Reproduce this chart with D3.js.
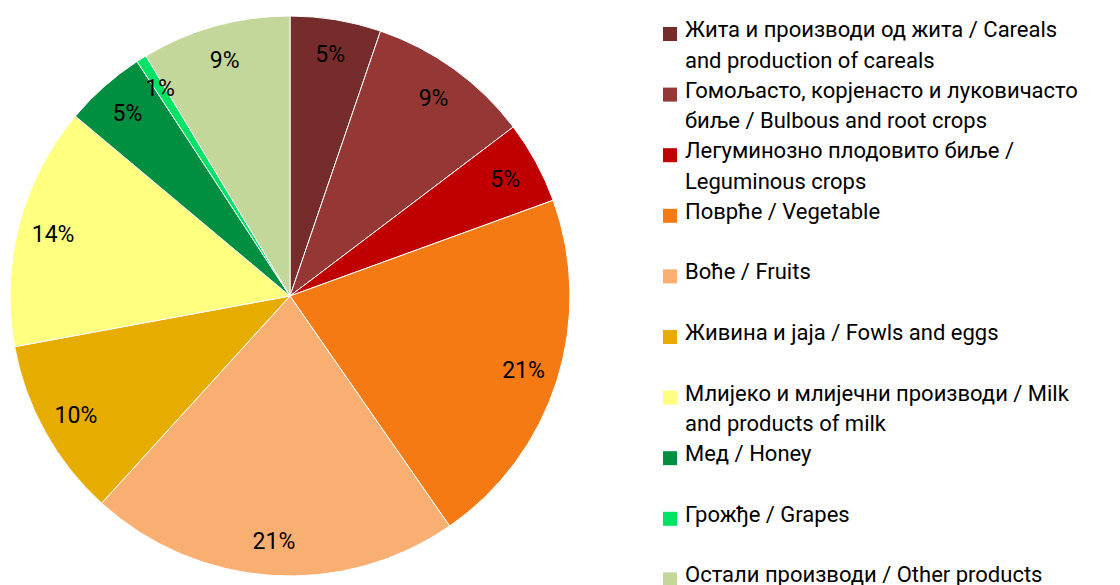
<html>
<head>
  <meta charset="utf-8" />
  <script src="https://cdnjs.cloudflare.com/ajax/libs/d3/7.8.5/d3.min.js"></script>
  <style>
    body { margin: 0; background: #fff; }
    text { font-family: Roboto, "Open Sans", sans-serif; fill: #000; }
  </style>
</head>
<body>
  <svg width="1120" height="585"></svg>
  <script>
  // categories, wrapped as in the legend
  var categories = [
    ["Жита и производи од жита / Careals", "and production of careals"],
    ["Гомољасто, корјенасто и луковичасто", "биље / Bulbous and root crops"],
    ["Легуминозно плодовито биље /", "Leguminous crops"],
    ["Поврће / Vegetable"],
    ["Воће / Fruits"],
    ["Живина и jaja / Fowls and eggs"],
    ["Млијеко и млијечни производи / Milk", "and products of milk"],
    ["Мед / Honey"],
    ["Грожђе / Grapes"],
    ["Остали производи / Other products"]
  ];
  var shares = [5.24, 9.45, 4.76, 20.9, 21.4, 10.36, 14.0, 4.7, 0.6, 8.6];
  var colors = ["#772c2c", "#953735", "#c00000", "#f57a13", "#f9ae72",
                "#e6ad00", "#ffff80", "#008e40", "#00e364", "#c4d79b"];

  var svg = d3.select("svg");
  var cx = 290, cy = 296, r = 280;

  var pie = d3.pie().sort(null).value(d => d);
  var arcs = pie(shares);
  var arc = d3.arc().innerRadius(0).outerRadius(r);
  var labelArc = d3.arc().innerRadius(245).outerRadius(245);
  var total = d3.sum(shares);

  var g = svg.append("g").attr("transform", "translate(" + cx + "," + cy + ")");
  g.selectAll("path")
    .data(arcs)
    .enter().append("path")
    .attr("d", arc)
    .attr("fill", (d, i) => colors[i])
    .attr("stroke", "#fff")
    .attr("stroke-width", 1);

  g.selectAll("text.lbl")
    .data(arcs)
    .enter().append("text")
    .attr("class", "lbl")
    .attr("transform", d => "translate(" + labelArc.centroid(d) + ")")
    .attr("text-anchor", "middle")
    .attr("dy", "0.35em")
    .style("font-size", "23px")
    .text(d => Math.round(d.value / total * 100) + "%");

  // legend
  var legend = svg.append("g");
  var item = legend.selectAll("g")
    .data(categories)
    .enter().append("g")
    .attr("transform", (d, i) => "translate(663," + (37 + i * 60.6) + ")");
  item.append("rect")
    .attr("x", 0).attr("y", -10)
    .attr("width", 14).attr("height", 14)
    .attr("fill", (d, i) => colors[i]);
  item.append("text")
    .style("font-size", "22px")
    .selectAll("tspan")
    .data(d => d)
    .enter().append("tspan")
    .attr("x", 22)
    .attr("y", (d, j) => j * 30.5)
    .text(d => d);
  </script>
</body>
</html>
